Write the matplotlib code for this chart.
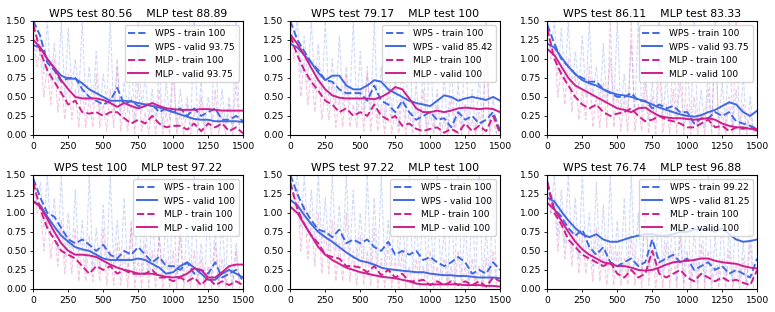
import numpy as np
import matplotlib.pyplot as plt
import matplotlib as mpl

mpl.rcParams["axes.titlesize"] = 7.8
mpl.rcParams["xtick.labelsize"] = 6.6
mpl.rcParams["ytick.labelsize"] = 6.6
mpl.rcParams["legend.fontsize"] = 6.5
plt.rcParams["figure.figsize"] = (7.75, 3.12)

steps = np.arange(0, 1501, 50)

titles = [("80.56", "88.89"), ("79.17", "100"), ("86.11", "83.33"),
          ("100", "97.22"), ("97.22", "100"), ("76.74", "96.88")]
legend_acc = [("100", "93.75", "100", "93.75"),
              ("100", "85.42", "100", "100"),
              ("100", "93.75", "100", "100"),
              ("100", "100", "100", "100"),
              ("100", "100", "100", "100"),
              ("99.22", "81.25", "100", "100")]

# smoothed curves, one list per panel
wps_train = [
    [1.5, 1.3, 0.95, 0.85, 0.7, 0.75, 0.75, 0.6, 0.5, 0.45, 0.4, 0.45, 0.62, 0.4, 0.45, 0.38, 0.4, 0.4, 0.3, 0.35, 0.3, 0.35, 0.25, 0.35, 0.25, 0.3, 0.35, 0.2, 0.2, 0.25, 0.18],
    [1.5, 1.25, 1.1, 0.95, 0.85, 0.72, 0.7, 0.6, 0.55, 0.55, 0.55, 0.45, 0.65, 0.45, 0.4, 0.3, 0.45, 0.3, 0.2, 0.25, 0.3, 0.2, 0.22, 0.1, 0.3, 0.2, 0.25, 0.15, 0.2, 0.3, 0.05],
    [1.45, 1.2, 1.0, 0.9, 0.8, 0.75, 0.7, 0.7, 0.6, 0.55, 0.5, 0.5, 0.55, 0.45, 0.45, 0.35, 0.4, 0.35, 0.38, 0.3, 0.3, 0.15, 0.22, 0.22, 0.3, 0.25, 0.3, 0.18, 0.15, 0.12, 0.08],
    [1.45, 1.2, 1.0, 0.95, 0.8, 0.65, 0.6, 0.65, 0.58, 0.5, 0.58, 0.45, 0.4, 0.5, 0.45, 0.55, 0.45, 0.35, 0.42, 0.3, 0.3, 0.25, 0.35, 0.2, 0.25, 0.2, 0.35, 0.15, 0.2, 0.25, 0.1],
    [1.5, 1.25, 1.05, 0.9, 0.78, 0.75, 0.68, 0.78, 0.6, 0.65, 0.6, 0.65, 0.55, 0.5, 0.62, 0.45, 0.5, 0.45, 0.5, 0.38, 0.42, 0.35, 0.3, 0.35, 0.42, 0.35, 0.2, 0.25, 0.2, 0.35, 0.25],
    [1.4, 1.05, 0.95, 0.8, 0.7, 0.78, 0.55, 0.45, 0.55, 0.35, 0.3, 0.35, 0.4, 0.3, 0.35, 0.65, 0.35, 0.4, 0.45, 0.35, 0.4, 0.25, 0.3, 0.35, 0.25, 0.3, 0.2, 0.25, 0.2, 0.15, 0.4],
]
wps_valid = [
    [1.18, 1.15, 1.0, 0.88, 0.78, 0.74, 0.74, 0.68, 0.6, 0.55, 0.5, 0.45, 0.45, 0.45, 0.44, 0.42, 0.4, 0.38, 0.36, 0.33, 0.3, 0.27, 0.24, 0.21, 0.2, 0.2, 0.18, 0.18, 0.18, 0.18, 0.17],
    [1.2, 1.15, 1.05, 0.95, 0.82, 0.72, 0.78, 0.78, 0.65, 0.6, 0.6, 0.65, 0.72, 0.7, 0.6, 0.55, 0.5, 0.45, 0.42, 0.4, 0.38, 0.45, 0.52, 0.5, 0.45, 0.48, 0.5, 0.48, 0.46, 0.5, 0.45],
    [1.2, 1.15, 1.02, 0.9, 0.8, 0.72, 0.68, 0.65, 0.6, 0.56, 0.53, 0.52, 0.5, 0.47, 0.44, 0.4, 0.36, 0.33, 0.3, 0.27, 0.25, 0.24, 0.26, 0.3, 0.33, 0.38, 0.43, 0.4, 0.3, 0.25, 0.32],
    [1.15, 1.1, 0.95, 0.82, 0.7, 0.62, 0.55, 0.52, 0.5, 0.45, 0.4, 0.38, 0.38, 0.38, 0.38, 0.4, 0.38, 0.33, 0.28, 0.2, 0.22, 0.3, 0.35, 0.28, 0.2, 0.12, 0.12, 0.2, 0.25, 0.2, 0.15],
    [1.17, 1.1, 0.97, 0.85, 0.75, 0.68, 0.62, 0.55, 0.48, 0.42, 0.37, 0.35, 0.32, 0.28, 0.26, 0.25, 0.24, 0.23, 0.22, 0.22, 0.2, 0.19, 0.18, 0.18, 0.17, 0.17, 0.16, 0.15, 0.15, 0.15, 0.14],
    [1.2, 1.15, 1.02, 0.9, 0.8, 0.72, 0.68, 0.72, 0.65, 0.62, 0.62, 0.65, 0.68, 0.7, 0.72, 0.72, 0.7, 0.7, 0.72, 0.75, 0.75, 0.78, 0.78, 0.78, 0.75, 0.8, 0.72, 0.65, 0.62, 0.63, 0.65],
]
mlp_train = [
    [1.45, 1.1, 0.85, 0.7, 0.55, 0.4, 0.45, 0.3, 0.28, 0.3, 0.25, 0.3, 0.3, 0.22, 0.15, 0.2, 0.15, 0.25, 0.15, 0.1, 0.12, 0.12, 0.07, 0.15, 0.05, 0.15, 0.1, 0.15, 0.05, 0.1, 0.02],
    [1.3, 1.05, 0.85, 0.7, 0.58, 0.45, 0.4, 0.3, 0.35, 0.25, 0.3, 0.25, 0.4, 0.25, 0.2, 0.25, 0.12, 0.15, 0.08, 0.05, 0.08, 0.1, 0.03, 0.08, 0.03, 0.15, 0.05, 0.12, 0.05, 0.25, 0.02],
    [1.4, 1.0, 0.8, 0.65, 0.5, 0.4, 0.35, 0.4, 0.3, 0.25, 0.28, 0.3, 0.35, 0.25, 0.18, 0.2, 0.25, 0.2, 0.18, 0.15, 0.1, 0.1, 0.15, 0.2, 0.1, 0.12, 0.05, 0.1, 0.08, 0.1, 0.05],
    [1.4, 1.05, 0.8, 0.65, 0.5, 0.45, 0.4, 0.3, 0.2, 0.3, 0.25, 0.3, 0.2, 0.25, 0.2, 0.2, 0.2, 0.25, 0.15, 0.15, 0.1, 0.15, 0.1, 0.15, 0.05, 0.15, 0.05, 0.1, 0.05, 0.1, 0.05],
    [1.4, 1.05, 0.85, 0.7, 0.6, 0.45, 0.42, 0.4, 0.3, 0.3, 0.28, 0.22, 0.3, 0.18, 0.25, 0.15, 0.2, 0.1, 0.1, 0.12, 0.05, 0.1, 0.05, 0.1, 0.05, 0.1, 0.05, 0.1, 0.03, 0.15, 0.1],
    [1.4, 1.0, 0.85, 0.65, 0.55, 0.45, 0.4, 0.35, 0.3, 0.35, 0.2, 0.15, 0.25, 0.15, 0.2, 0.5, 0.2, 0.15, 0.2, 0.25, 0.15, 0.1, 0.2, 0.15, 0.1, 0.15, 0.1, 0.12, 0.08, 0.05, 0.25],
]
mlp_valid = [
    [1.25, 1.15, 1.0, 0.88, 0.72, 0.6, 0.5, 0.48, 0.48, 0.48, 0.46, 0.42, 0.37, 0.42, 0.38, 0.35, 0.38, 0.42, 0.38, 0.35, 0.34, 0.33, 0.33, 0.33, 0.34, 0.34, 0.33, 0.32, 0.32, 0.32, 0.32],
    [1.32, 1.2, 1.05, 0.88, 0.72, 0.6, 0.52, 0.49, 0.48, 0.48, 0.48, 0.48, 0.47, 0.5, 0.55, 0.63, 0.6, 0.48, 0.35, 0.3, 0.3, 0.32, 0.3, 0.32, 0.35, 0.36, 0.35, 0.34, 0.35, 0.34, 0.3],
    [1.13, 1.05, 0.9, 0.75, 0.65, 0.6, 0.55, 0.5, 0.45, 0.4, 0.35, 0.33, 0.3, 0.35, 0.36, 0.3, 0.25, 0.23, 0.22, 0.22, 0.21, 0.2, 0.21, 0.22, 0.2, 0.15, 0.12, 0.1, 0.1, 0.08, 0.08],
    [1.15, 1.08, 0.92, 0.75, 0.6, 0.5, 0.45, 0.45, 0.44, 0.42, 0.37, 0.32, 0.28, 0.25, 0.23, 0.2, 0.2, 0.2, 0.18, 0.16, 0.15, 0.16, 0.2, 0.27, 0.25, 0.15, 0.15, 0.22, 0.3, 0.32, 0.32],
    [1.08, 1.0, 0.85, 0.7, 0.55, 0.45, 0.38, 0.33, 0.28, 0.25, 0.22, 0.2, 0.18, 0.16, 0.15, 0.14, 0.12, 0.1, 0.07, 0.06, 0.06, 0.06, 0.06, 0.06, 0.06, 0.05, 0.05, 0.05, 0.04, 0.04, 0.03],
    [1.13, 1.05, 0.9, 0.75, 0.62, 0.52, 0.45, 0.4, 0.35, 0.33, 0.3, 0.3, 0.28, 0.25, 0.24, 0.25, 0.28, 0.32, 0.35, 0.36, 0.37, 0.38, 0.4, 0.4, 0.37, 0.35, 0.34, 0.33, 0.3, 0.28, 0.27],
]

# faint raw (unsmoothed) train losses every 25 steps, read roughly at the spikes
wps_raw = [
    [1.5, 1.1, 1.3, 0.8, 1.5, 0.7, 1.2, 0.6, 1.5, 0.5, 1.4, 0.6, 1.0, 0.5, 1.5, 0.4, 0.9, 0.4, 1.1, 0.3, 0.8, 0.4, 1.5, 0.3, 0.9, 0.3, 0.7, 0.3, 1.0, 0.2, 1.5, 0.3, 0.8, 0.2, 0.6, 0.2, 0.9, 0.1, 0.7, 0.2, 1.0, 0.1, 0.6, 0.2, 0.5, 0.1, 1.5, 0.1, 0.7, 0.1, 0.5, 0.2, 1.5, 0.1, 0.6, 0.1, 0.5, 0.1, 1.5, 0.1],
    [1.5, 1.2, 1.5, 0.8, 1.3, 0.7, 1.5, 0.6, 1.2, 0.5, 1.5, 0.5, 1.0, 0.4, 1.3, 0.4, 0.9, 0.4, 1.5, 0.3, 1.1, 0.3, 0.8, 0.3, 1.5, 0.2, 0.9, 0.2, 1.2, 0.2, 0.8, 0.1, 1.0, 0.2, 1.5, 0.1, 0.7, 0.1, 0.9, 0.1, 1.3, 0.1, 0.6, 0.1, 0.8, 0.05, 1.0, 0.1, 0.7, 0.05, 1.4, 0.1, 0.6, 0.05, 0.8, 0.05, 1.5, 0.05, 0.5, 0.02],
    [1.5, 1.1, 1.5, 0.8, 1.4, 0.7, 1.5, 0.6, 1.1, 0.6, 1.3, 0.5, 1.5, 0.5, 0.9, 0.4, 1.2, 0.4, 1.0, 0.4, 1.5, 0.3, 0.8, 0.3, 1.2, 0.3, 1.5, 0.3, 0.9, 0.2, 0.7, 0.2, 1.5, 0.2, 0.8, 0.2, 1.1, 0.2, 0.7, 0.1, 1.0, 0.1, 1.5, 0.1, 0.6, 0.1, 0.9, 0.1, 1.3, 0.1, 0.7, 0.1, 1.5, 0.1, 0.6, 0.05, 0.8, 0.05, 0.5, 0.05],
    [1.5, 1.1, 1.4, 0.8, 1.5, 0.7, 1.2, 0.5, 1.5, 0.4, 1.0, 0.4, 1.3, 0.4, 0.9, 0.3, 1.5, 0.3, 0.8, 0.3, 1.1, 0.3, 1.5, 0.3, 0.9, 0.3, 1.2, 0.2, 0.8, 0.2, 1.5, 0.2, 0.9, 0.2, 1.1, 0.2, 0.7, 0.2, 1.0, 0.1, 1.4, 0.1, 0.7, 0.1, 0.9, 0.1, 1.5, 0.1, 0.6, 0.1, 1.2, 0.1, 0.8, 0.1, 1.0, 0.05, 1.3, 0.05, 0.6, 0.05],
    [1.5, 1.2, 1.5, 0.8, 1.5, 0.7, 1.3, 0.6, 1.5, 0.6, 1.2, 0.5, 1.5, 0.5, 1.1, 0.5, 1.5, 0.4, 1.3, 0.4, 1.0, 0.4, 1.5, 0.3, 1.2, 0.3, 1.5, 0.3, 0.9, 0.3, 1.4, 0.3, 1.1, 0.2, 1.5, 0.2, 0.9, 0.2, 1.3, 0.2, 1.0, 0.2, 1.5, 0.2, 0.8, 0.1, 1.2, 0.1, 1.5, 0.1, 0.9, 0.1, 1.1, 0.1, 1.5, 0.1, 0.8, 0.1, 1.3, 0.1],
    [1.5, 1.0, 1.5, 0.7, 1.3, 0.6, 1.5, 0.5, 1.2, 0.4, 1.5, 0.4, 1.0, 0.3, 1.4, 0.3, 1.1, 0.3, 1.5, 0.2, 0.9, 0.2, 1.2, 0.2, 1.5, 0.3, 1.0, 0.2, 1.3, 0.2, 0.8, 0.2, 1.5, 0.2, 1.0, 0.2, 1.2, 0.1, 0.9, 0.1, 1.4, 0.1, 0.8, 0.1, 1.1, 0.1, 1.5, 0.1, 0.7, 0.1, 1.0, 0.1, 0.8, 0.1, 1.2, 0.1, 0.6, 0.1, 0.9, 0.1],
]
mlp_raw = [
    [1.3, 0.9, 1.1, 0.5, 0.9, 0.4, 1.0, 0.3, 0.7, 0.2, 0.8, 0.2, 0.6, 0.1, 0.7, 0.1, 0.5, 0.1, 0.8, 0.1, 0.4, 0.05, 0.6, 0.1, 1.0, 0.05, 0.4, 0.05, 0.5, 0.02, 0.7, 0.05, 0.3, 0.02, 0.4, 0.02, 0.6, 0.02, 0.3, 0.01, 0.9, 0.02, 0.3, 0.01, 0.4, 0.01, 0.3, 0.02, 0.5, 0.01, 0.2, 0.01, 0.6, 0.01, 0.3, 0.01, 0.4, 0.01, 0.7, 0.01],
    [1.4, 1.0, 1.2, 0.5, 1.0, 0.4, 0.8, 0.3, 0.9, 0.2, 0.6, 0.2, 0.7, 0.1, 0.5, 0.1, 0.8, 0.1, 0.4, 0.1, 0.6, 0.05, 0.9, 0.05, 0.5, 0.05, 0.4, 0.02, 0.6, 0.02, 0.3, 0.02, 0.5, 0.01, 0.3, 0.01, 0.4, 0.01, 0.6, 0.01, 0.3, 0.01, 0.4, 0.01, 0.2, 0.01, 0.5, 0.01, 0.3, 0.01, 0.4, 0.01, 0.2, 0.01, 0.3, 0.01, 1.3, 0.01, 0.2, 0.01],
    [1.5, 1.0, 1.2, 0.5, 0.9, 0.4, 1.0, 0.3, 0.8, 0.2, 0.6, 0.2, 0.9, 0.1, 0.5, 0.1, 0.7, 0.1, 1.5, 0.1, 0.6, 0.05, 0.5, 0.05, 1.5, 0.05, 0.4, 0.05, 0.7, 0.02, 0.5, 0.02, 1.0, 0.02, 0.4, 0.02, 0.6, 0.01, 1.5, 0.01, 0.4, 0.01, 0.5, 0.01, 0.3, 0.01, 0.6, 0.01, 1.5, 0.01, 0.3, 0.01, 0.5, 0.01, 1.5, 0.01, 0.4, 0.01, 0.3, 0.01],
    [1.4, 1.0, 1.1, 0.5, 1.0, 0.4, 0.8, 0.3, 0.9, 0.2, 0.7, 0.2, 0.8, 0.1, 0.6, 0.1, 0.7, 0.1, 0.5, 0.1, 0.8, 0.05, 0.5, 0.05, 0.6, 0.05, 0.5, 0.02, 0.9, 0.02, 0.4, 0.02, 0.6, 0.02, 0.5, 0.01, 0.7, 0.01, 0.4, 0.01, 0.5, 0.01, 0.9, 0.01, 0.3, 0.01, 0.5, 0.01, 0.4, 0.01, 0.3, 0.01, 0.6, 0.01, 0.4, 0.01, 0.3, 0.01, 0.5, 0.01],
    [1.4, 1.0, 1.3, 0.5, 1.1, 0.4, 0.9, 0.3, 1.0, 0.2, 0.8, 0.2, 0.9, 0.1, 0.6, 0.1, 1.0, 0.1, 0.5, 0.05, 0.7, 0.05, 0.5, 0.05, 0.8, 0.02, 0.4, 0.02, 0.6, 0.02, 0.4, 0.01, 0.5, 0.01, 0.3, 0.01, 0.4, 0.01, 0.3, 0.01, 0.5, 0.01, 0.3, 0.01, 0.4, 0.01, 0.3, 0.01, 0.5, 0.01, 0.3, 0.01, 0.4, 0.01, 0.3, 0.01, 0.4, 0.01, 0.5, 0.01],
    [1.5, 1.0, 1.2, 0.5, 1.0, 0.4, 0.9, 0.3, 0.8, 0.2, 0.7, 0.2, 0.6, 0.1, 0.8, 0.1, 0.5, 0.05, 0.6, 0.05, 0.5, 0.05, 0.4, 0.05, 0.7, 0.05, 0.4, 0.02, 1.2, 0.05, 0.5, 0.02, 0.4, 0.02, 0.6, 0.02, 0.5, 0.02, 0.7, 0.01, 0.5, 0.01, 0.4, 0.01, 0.6, 0.01, 0.5, 0.01, 0.3, 0.01, 0.4, 0.01, 0.5, 0.01, 0.3, 0.01, 0.4, 0.01, 0.6, 0.01],
]

c_wps = "royalblue"
c_mlp = "#d01e8c"

fig, axes = plt.subplots(2, 3)
plt.subplots_adjust(left=0.043, right=0.977, top=0.933, bottom=0.074, wspace=0.225, hspace=0.35)

for i, ax in enumerate(axes.flat):
    ax.plot(25 * np.arange(len(wps_raw[i])), wps_raw[i], color=c_wps, alpha=0.25, lw=0.8, ls="--")
    ax.plot(25 * np.arange(len(mlp_raw[i])), mlp_raw[i], color=c_mlp, alpha=0.25, lw=0.8, ls="--")
    acc = legend_acc[i]
    ax.plot(steps, wps_train[i], color=c_wps, ls="--", lw=1.4, label="WPS - train " + acc[0])
    ax.plot(steps, wps_valid[i], color=c_wps, lw=1.4, label="WPS - valid " + acc[1])
    ax.plot(steps, mlp_train[i], color=c_mlp, ls="--", lw=1.4, label="MLP - train " + acc[2])
    ax.plot(steps, mlp_valid[i], color=c_mlp, lw=1.4, label="MLP - valid " + acc[3])
    ax.set_xlim(0, 1500)
    ax.set_ylim(0, 1.5)
    ax.set_xticks([0, 250, 500, 750, 1000, 1250, 1500])
    ax.set_yticks([0, 0.25, 0.5, 0.75, 1.0, 1.25, 1.5])
    ax.tick_params(length=2.5, width=0.6, pad=2.5)
    ax.set_title("WPS test %s    MLP test %s" % titles[i], pad=3)
    ax.legend(loc="upper right", handlelength=2.2)

plt.savefig("out.png", dpi=100)
